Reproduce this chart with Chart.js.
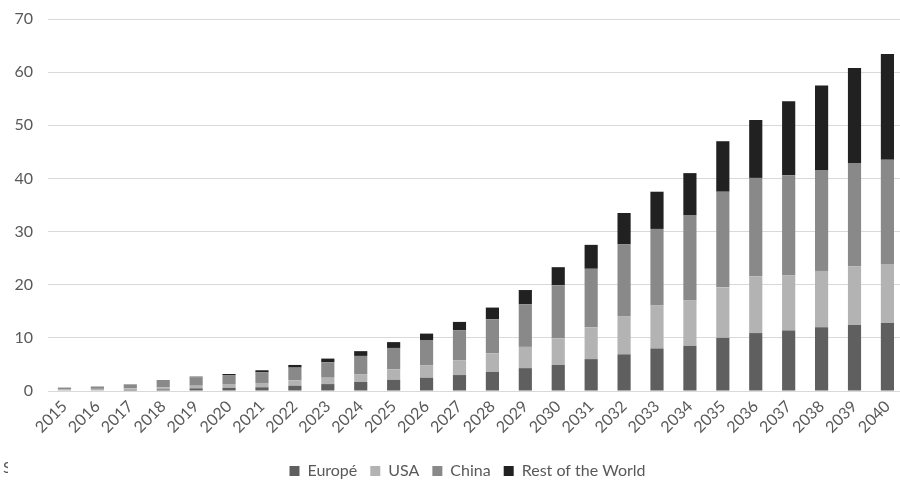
<!DOCTYPE html>
<html>
<head>
<meta charset="utf-8">
<script src="https://cdn.jsdelivr.net/npm/chart.js@4/dist/chart.umd.min.js"></script>
<style>
  html, body { margin: 0; padding: 0; background: #ffffff; overflow: hidden; }
  #wrap { position: relative; width: 907px; height: 481px; }
  #src { position: absolute; left: 3px; top: 458px; width: 5px; overflow: hidden;
         font-family: Lato, "Open Sans", sans-serif; font-size: 16px; color: #595959; line-height: 18px; }
</style>
</head>
<body>
<div id="wrap">
  <canvas id="chart" width="907" height="481"></canvas>
  <div id="src">S</div>
</div>
<script>
const years = ['2015','2016','2017','2018','2019','2020','2021','2022','2023','2024','2025','2026','2027',
               '2028','2029','2030','2031','2032','2033','2034','2035','2036','2037','2038','2039','2040'];
const europe = [0.1,0.1,0.2,0.3,0.5,0.6,0.7,1.0,1.3,1.7,2.1,2.5,3.0,3.6,4.3,4.9,6.0,6.9,8.0,8.5,10.0,10.9,11.4,12.0,12.4,12.8];
const usa    = [0.25,0.3,0.3,0.4,0.5,0.6,0.8,1.0,1.2,1.4,2.0,2.3,2.8,3.5,4.0,5.0,6.0,7.2,8.1,8.6,9.5,10.7,10.4,10.6,11.1,11.1];
const china  = [0.3,0.45,0.7,1.2,1.6,1.8,2.0,2.4,2.9,3.5,4.0,4.8,5.6,6.4,8.0,10.0,11.0,13.5,14.4,16.0,18.0,18.5,18.8,19.0,19.4,19.6];
const rest   = [0,0,0.05,0.1,0.1,0.2,0.4,0.5,0.7,0.9,1.1,1.2,1.6,2.2,2.7,3.4,4.5,5.9,7.0,7.9,9.5,10.9,13.9,15.9,17.9,19.9];
const yTicks = [0,10,20,30,40,50,60,70];

const FONT = 'Lato, "Open Sans", sans-serif';
const TXT = '#595959';

function ds(label, data, color) {
  return { label, data, backgroundColor: color, borderWidth: 0,
           barPercentage: 0.4, categoryPercentage: 1.0 };
}

// nudge the legend row a little to the right of the canvas centre
const legendShift = {
  id: 'legendShift',
  afterLayout(chart) {
    const lg = chart.legend;
    if (lg) { lg.left += 14; lg.right += 14; }
  }
};

new Chart(document.getElementById('chart'), {
  type: 'bar',
  data: {
    labels: years,
    datasets: [
      ds('Europé', europe, '#5f5f5f'),
      ds('USA', usa, '#b3b3b3'),
      ds('China', china, '#898989'),
      ds('Rest of the World', rest, '#212121')
    ]
  },
  plugins: [legendShift],
  options: {
    responsive: false,
    animation: false,
    layout: { padding: { top: 0, right: 0, bottom: -8, left: 0 } },
    plugins: {
      tooltip: { enabled: false },
      legend: {
        position: 'bottom',
        labels: {
          font: { family: FONT, size: 16 },
          color: TXT,
          boxWidth: 10,
          boxHeight: 10,
          padding: 13
        }
      }
    },
    scales: {
      x: {
        stacked: true,
        offset: true,
        afterFit: (s) => { s.height = 59; },
        grid: { display: false, drawTicks: false },
        border: { display: true, color: '#d9d9d9', width: 1 },
        ticks: {
          font: { family: FONT, size: 16 },
          color: TXT,
          minRotation: 45,
          maxRotation: 45,
          autoSkip: false,
          padding: 6
        }
      },
      y: {
        stacked: true,
        min: 0,
        max: 70,
        afterBuildTicks: (s) => { s.ticks = yTicks.map(v => ({ value: v })); },
        afterFit: (s) => { s.width = 48; s.paddingTop = 19; s.paddingBottom = 10; },
        grid: { color: '#d9d9d9', lineWidth: 1, drawTicks: false },
        border: { display: false },
        ticks: {
          font: { family: FONT, size: 16 },
          color: TXT,
          padding: 15
        }
      }
    }
  }
});
</script>
</body>
</html>
